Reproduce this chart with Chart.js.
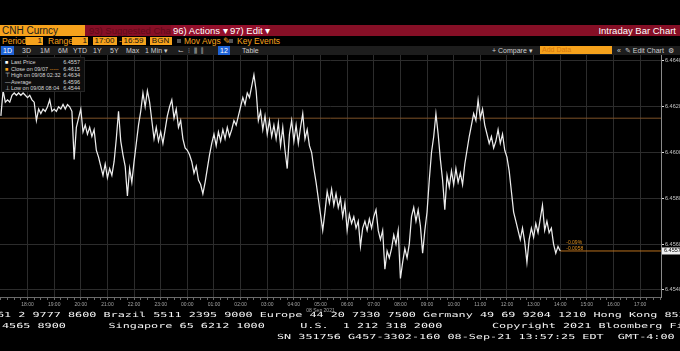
<!DOCTYPE html>
<html>
<head>
<meta charset="utf-8">
<script src="https://cdn.jsdelivr.net/npm/chart.js@4.4.0/dist/chart.umd.min.js"></script>
<style>
html, body { margin: 0; padding: 0; background: #000; width: 680px; height: 351px; overflow: hidden; font-family: 'Liberation Sans', Arial, sans-serif; }
.abs { position: absolute; white-space: pre; }
.redbar { position: absolute; left: 0; top: 25px; width: 680px; height: 11px; background: #860f26; }
.tkr { left: 0; top: 25px; width: 85px; height: 11px; background: #f6a21c; color: #1c1c1c; font-size: 10px; line-height: 11px; padding-left: 2px; box-sizing: border-box; }
.menu { top: 25px; height: 11px; font-size: 9.5px; line-height: 11px; color: #fff; }
.row2 { top: 37px; height: 9px; font-size: 8.5px; line-height: 9px; color: #f6a21c; }
.obox { top: 37px; height: 8px; background: #f6a21c; color: #111; font-size: 8px; line-height: 8px; text-align: right; padding-right: 1px; box-sizing: border-box; }
.row3bg { position: absolute; left: 0; top: 46px; width: 680px; height: 9px; background: #1d1d1d; }
.tab { top: 46px; height: 9px; font-size: 7px; line-height: 9px; color: #cfcfcf; }
.sel { background: #1f63d6; color: #fff; padding: 0 2px; }
.legend { position: absolute; left: 1px; top: 57px; width: 84px; height: 35px; background: #0d0d0d; border: 1px solid #252525; box-sizing: border-box; }
.lg { position: absolute; font-size: 5.5px; line-height: 6px; color: #d6d6d6; white-space: pre; }
.foot { position: absolute; font-family: 'DejaVu Sans Mono', monospace; font-size: 7px; line-height: 10px; color: #f4f4f4; white-space: pre; transform: scaleX(1.685); transform-origin: left center; }
#wrap { position: absolute; left: 0; top: 55px; width: 680px; height: 258px; }
</style>
</head>
<body>

<div class="redbar"></div>
<div class="abs tkr">CNH Curncy</div>
<div class="abs menu" style="left:89px;color:#5e0a18;">93) Suggested Charts</div>
<div class="abs menu" style="left:171px;width:55px;background:#930f2b;padding-left:2px;">96) Actions ▾</div>
<div class="abs menu" style="left:228px;width:38px;background:#930f2b;padding-left:2px;">97) Edit ▾</div>
<div class="abs menu" style="right:4px;">Intraday Bar Chart</div>

<div class="abs row2" style="left:2px;">Period</div>
<div class="abs obox" style="left:26px;width:17px;">1</div>
<div class="abs row2" style="left:48px;">Range</div>
<div class="abs obox" style="left:72px;width:16px;">1</div>
<div class="abs obox" style="left:93px;width:24px;text-align:center;">17:00</div>
<div class="abs row2" style="left:119px;">-</div>
<div class="abs obox" style="left:122px;width:24px;text-align:center;">16:59</div>
<div class="abs obox" style="left:150px;width:22px;text-align:center;">BGN</div>
<div class="abs" style="left:177px;top:39px;width:4px;height:4px;background:#555;"></div>
<div class="abs row2" style="left:184px;">Mov Avgs ✎</div>
<div class="abs" style="left:229px;top:39px;width:4px;height:4px;background:#555;"></div>
<div class="abs row2" style="left:237px;">Key Events</div>

<div class="row3bg"></div>
<div class="abs tab sel" style="left:1px;">1D</div>
<div class="abs tab" style="left:22px;">3D</div>
<div class="abs tab" style="left:40px;">1M</div>
<div class="abs tab" style="left:58px;">6M</div>
<div class="abs tab" style="left:73px;">YTD</div>
<div class="abs tab" style="left:93px;">1Y</div>
<div class="abs tab" style="left:110px;">5Y</div>
<div class="abs tab" style="left:126px;">Max</div>
<div class="abs tab" style="left:145px;">1 Min ▾</div>
<div class="abs tab" style="left:178px;">⌙  ⫶  ⫼  ⫿</div>
<div class="abs tab sel" style="left:218px;">12</div>
<div class="abs tab" style="left:242px;">Table</div>
<div class="abs tab" style="left:492px;">+ Compare ▾</div>
<div class="abs" style="left:540px;top:46px;width:72px;height:8px;background:#f6a21c;color:#d8780c;font-size:7px;line-height:8px;padding-left:2px;box-sizing:border-box;">Add Data</div>
<div class="abs tab" style="left:617px;">«  ✎ Edit Chart  ⚙</div>

<div id="wrap"><canvas id="c"></canvas></div>

<div class="legend" id="legend"></div>

<div class="foot" style="left:-3.5px;top:310px;">61 2 9777 8600 Brazil 5511 2395 9000 Europe 44 20 7330 7500 Germany 49 69 9204 1210 Hong Kong 852 2977 6000</div>
<div class="foot" style="left:2px;top:321px;">4565 8900      Singapore 65 6212 1000     U.S.  1 212 318 2000       Copyright 2021 Bloomberg Finance L.P.</div>
<div class="foot" style="left:277px;top:332px;">SN 351756 G457-3302-160 08-Sep-21 13:57:25 EDT  GMT-4:00</div>

<script>
// CNH intraday, 5 minute samples starting 17:00 (09/07)
const stepMinutes = 5
const prices = [
  6.4616, 6.4627, 6.4622, 6.4623, 6.4622, 6.4625, 6.4626, 6.4625, 6.4626, 6.4625,
  6.4626, 6.4625, 6.4624, 6.4625, 6.4623, 6.4622, 6.4614, 6.4619, 6.4617, 6.4619,
  6.4618, 6.4620, 6.4623, 6.4618, 6.4619, 6.4618, 6.4620, 6.4619, 6.4621, 6.4619,
  6.4621, 6.4620, 6.4618, 6.4597, 6.4611, 6.4615, 6.4619, 6.4609, 6.4612, 6.4608,
  6.4611, 6.4607, 6.4610, 6.4601, 6.4598, 6.4594, 6.4590, 6.4595, 6.4589, 6.4593,
  6.4590, 6.4596, 6.4606, 6.4618, 6.4605, 6.4599, 6.4594, 6.4581, 6.4593, 6.4587,
  6.4596, 6.4604, 6.4612, 6.4618, 6.4626, 6.4620, 6.4627, 6.4622, 6.4614, 6.4606,
  6.4611, 6.4605, 6.4609, 6.4604, 6.4610, 6.4616, 6.4620, 6.4623, 6.4615, 6.4619,
  6.4611, 6.4614, 6.4606, 6.4602, 6.4601, 6.4599, 6.4596, 6.4591, 6.4594, 6.4588,
  6.4586, 6.4582, 6.4587, 6.4593, 6.4599, 6.4604, 6.4608, 6.4603, 6.4609, 6.4605,
  6.4610, 6.4606, 6.4611, 6.4607, 6.4610, 6.4614, 6.4612, 6.4616, 6.4620, 6.4624,
  6.4621, 6.4626, 6.4624, 6.4629, 6.4634, 6.4627, 6.4614, 6.4618, 6.4610, 6.4616,
  6.4608, 6.4614, 6.4607, 6.4612, 6.4606, 6.4613, 6.4603, 6.4611, 6.4601, 6.4593,
  6.4608, 6.4614, 6.4605, 6.4612, 6.4604, 6.4611, 6.4617, 6.4606, 6.4610, 6.4603,
  6.4600, 6.4593, 6.4587, 6.4580, 6.4573, 6.4566, 6.4574, 6.4583, 6.4578, 6.4584,
  6.4577, 6.4582, 6.4576, 6.4580, 6.4572, 6.4578, 6.4566, 6.4573, 6.4569, 6.4572,
  6.4567, 6.4570, 6.4559, 6.4567, 6.4570, 6.4566, 6.4571, 6.4567, 6.4572, 6.4575,
  6.4566, 6.4562, 6.4566, 6.4549, 6.4557, 6.4554, 6.4558, 6.4564, 6.4560, 6.4566,
  6.4545, 6.4552, 6.4558, 6.4554, 6.4560, 6.4572, 6.4576, 6.4570, 6.4575, 6.4568,
  6.4556, 6.4566, 6.4574, 6.4588, 6.4600, 6.4607, 6.4617, 6.4608, 6.4597, 6.4588,
  6.4575, 6.4590, 6.4585, 6.4592, 6.4586, 6.4593, 6.4587, 6.4591, 6.4586, 6.4595,
  6.4601, 6.4607, 6.4612, 6.4617, 6.4614, 6.4623, 6.4615, 6.4619, 6.4612, 6.4608,
  6.4604, 6.4607, 6.4602, 6.4605, 6.4610, 6.4604, 6.4608, 6.4601, 6.4598, 6.4592,
  6.4583, 6.4574, 6.4570, 6.4566, 6.4562, 6.4567, 6.4561, 6.4552, 6.4562, 6.4567,
  6.4563, 6.4569, 6.4565, 6.4571, 6.4577, 6.4566, 6.4570, 6.4565, 6.4567, 6.4560,
  6.4556, 6.4559, 6.4557
]
const closePrev = 6.4615
const lastPrice = 6.4557
const hourLabels = ['18:00', '19:00', '20:00', '21:00', '22:00', '23:00', '00:00', '01:00',
  '02:00', '03:00', '04:00', '05:00', '06:00', '07:00', '08:00', '09:00', '10:00', '11:00',
  '12:00', '13:00', '14:00', '15:00', '16:00', '17:00']
const dateLabel = '08 Sep 2021'
const dateLabelHour = '05:00'
const yTicks = [6.4540, 6.4560, 6.4580, 6.4600, 6.4620, 6.4640]
const legendNames = ['Last Price', 'Close on 09/07', 'High on 09/08 02:32', 'Average', 'Low on 09/08 08:04']
const legendValues = ['6.4557', '6.4615', '6.4634', '6.4596', '6.4544']
const legendMarks = ['■', '■', '⊤', '—', '⊥']
const legendMarkColors = ['#ffffff', '#f6a21c', '#d6d6d6', '#d6d6d6', '#d6d6d6']

const xMin = -2
const xMax = 1487

// legend box
const legend = document.getElementById('legend')
legendNames.forEach((name, i) => {
    const top = 1 + i * 6.6
    legend.insertAdjacentHTML('beforeend',
        `<div class="lg" style="left:3px;top:${top}px;color:${legendMarkColors[i]}">${legendMarks[i]}</div>` +
        `<div class="lg" style="left:9px;top:${top}px;">${name}${i === 1 ? ' <span style="color:#f6a21c">-----</span>' : ''}</div>` +
        `<div class="lg" style="right:4px;top:${top}px;">${legendValues[i]}</div>`)
})

const priceData = prices.map((p, i) => ({ x: i * stepMinutes, y: p }))
const lastX = (prices.length - 1) * stepMinutes

const markerPlugin = {
    id: 'markers',
    afterDraw(chart) {
        const ctx = chart.ctx
        const xs = chart.scales.x
        const ys = chart.scales.y
        const px = xs.getPixelForValue(lastX)
        const py = ys.getPixelForValue(lastPrice)
        const change = lastPrice - closePrev
        const pct = change / closePrev * 100
        ctx.save()
        ctx.font = '5px "Liberation Sans"'
        ctx.fillStyle = '#e0901e'
        ctx.textBaseline = 'middle'
        ctx.fillText(pct.toFixed(2) + '%', px + 6, py - 8)
        ctx.fillText(change.toFixed(4), px + 6, py - 2.5)
        // last price box on the axis
        const right = chart.chartArea.right
        ctx.fillStyle = '#f0f0f0'
        ctx.fillRect(right + 1, py - 3.5, 19, 7)
        ctx.fillStyle = '#000'
        ctx.font = '5.5px "Liberation Sans"'
        ctx.fillText(lastPrice.toFixed(4), right + 3, py)
        ctx.restore()
    }
}

new Chart(document.getElementById('c'), {
    type: 'line',
    data: {
        datasets: [
            {
                data: priceData,
                borderColor: '#ececec',
                borderWidth: 1.25,
                pointRadius: 0,
                tension: 0
            },
            {
                data: [{ x: xMin, y: closePrev }, { x: xMax, y: closePrev }],
                borderColor: '#7d5128',
                borderWidth: 1,
                pointRadius: 0
            },
            {
                data: [{ x: lastX, y: lastPrice }, { x: xMax, y: lastPrice }],
                borderColor: '#b8701e',
                borderWidth: 1,
                pointRadius: 0
            }
        ]
    },
    options: {
        responsive: true,
        maintainAspectRatio: false,
        animation: false,
        events: [],
        layout: { padding: 0 },
        plugins: { legend: { display: false }, tooltip: { enabled: false } },
        scales: {
            x: {
                type: 'linear',
                min: xMin,
                max: xMax,
                afterBuildTicks(s) {
                    const t = []
                    for (let m = 0; m <= 1485; m += 15) t.push({ value: m })
                    s.ticks = t
                },
                afterFit(s) {
                    s.height = 16
                    s.paddingLeft = 0
                    s.paddingRight = 0
                },
                ticks: {
                    autoSkip: false,
                    maxRotation: 0,
                    padding: 2,
                    color: '#a3a3a3',
                    font: { family: 'Liberation Sans', size: 5 },
                    callback(v) {
                        if (v <= 0 || v % 60 !== 0) return ''
                        const lab = hourLabels[v / 60 - 1]
                        return lab === dateLabelHour ? [lab, dateLabel] : lab
                    }
                },
                grid: {
                    color: c => (c.tick && c.tick.value > 0 && c.tick.value % 60 === 0) ? '#2c2c2c' : 'rgba(0,0,0,0)',
                    tickColor: '#6a6a6a',
                    tickLength: 3,
                    lineWidth: 1
                },
                border: { color: '#6a6a6a' }
            },
            y: {
                type: 'linear',
                position: 'right',
                min: 6.45369,
                max: 6.46426,
                afterBuildTicks(s) {
                    s.ticks = yTicks.map(v => ({ value: v }))
                },
                afterFit(s) {
                    s.width = 19
                    s.paddingTop = 0
                    s.paddingBottom = 0
                },
                ticks: {
                    padding: 1,
                    color: '#c4c4c4',
                    font: { family: 'Liberation Sans', size: 5.5 },
                    callback: v => v.toFixed(4)
                },
                grid: {
                    color: '#2c2c2c',
                    tickColor: '#dddddd',
                    tickLength: 3
                },
                border: { color: '#8a8a8a' }
            }
        }
    },
    plugins: [markerPlugin]
})
</script>
</body>
</html>
